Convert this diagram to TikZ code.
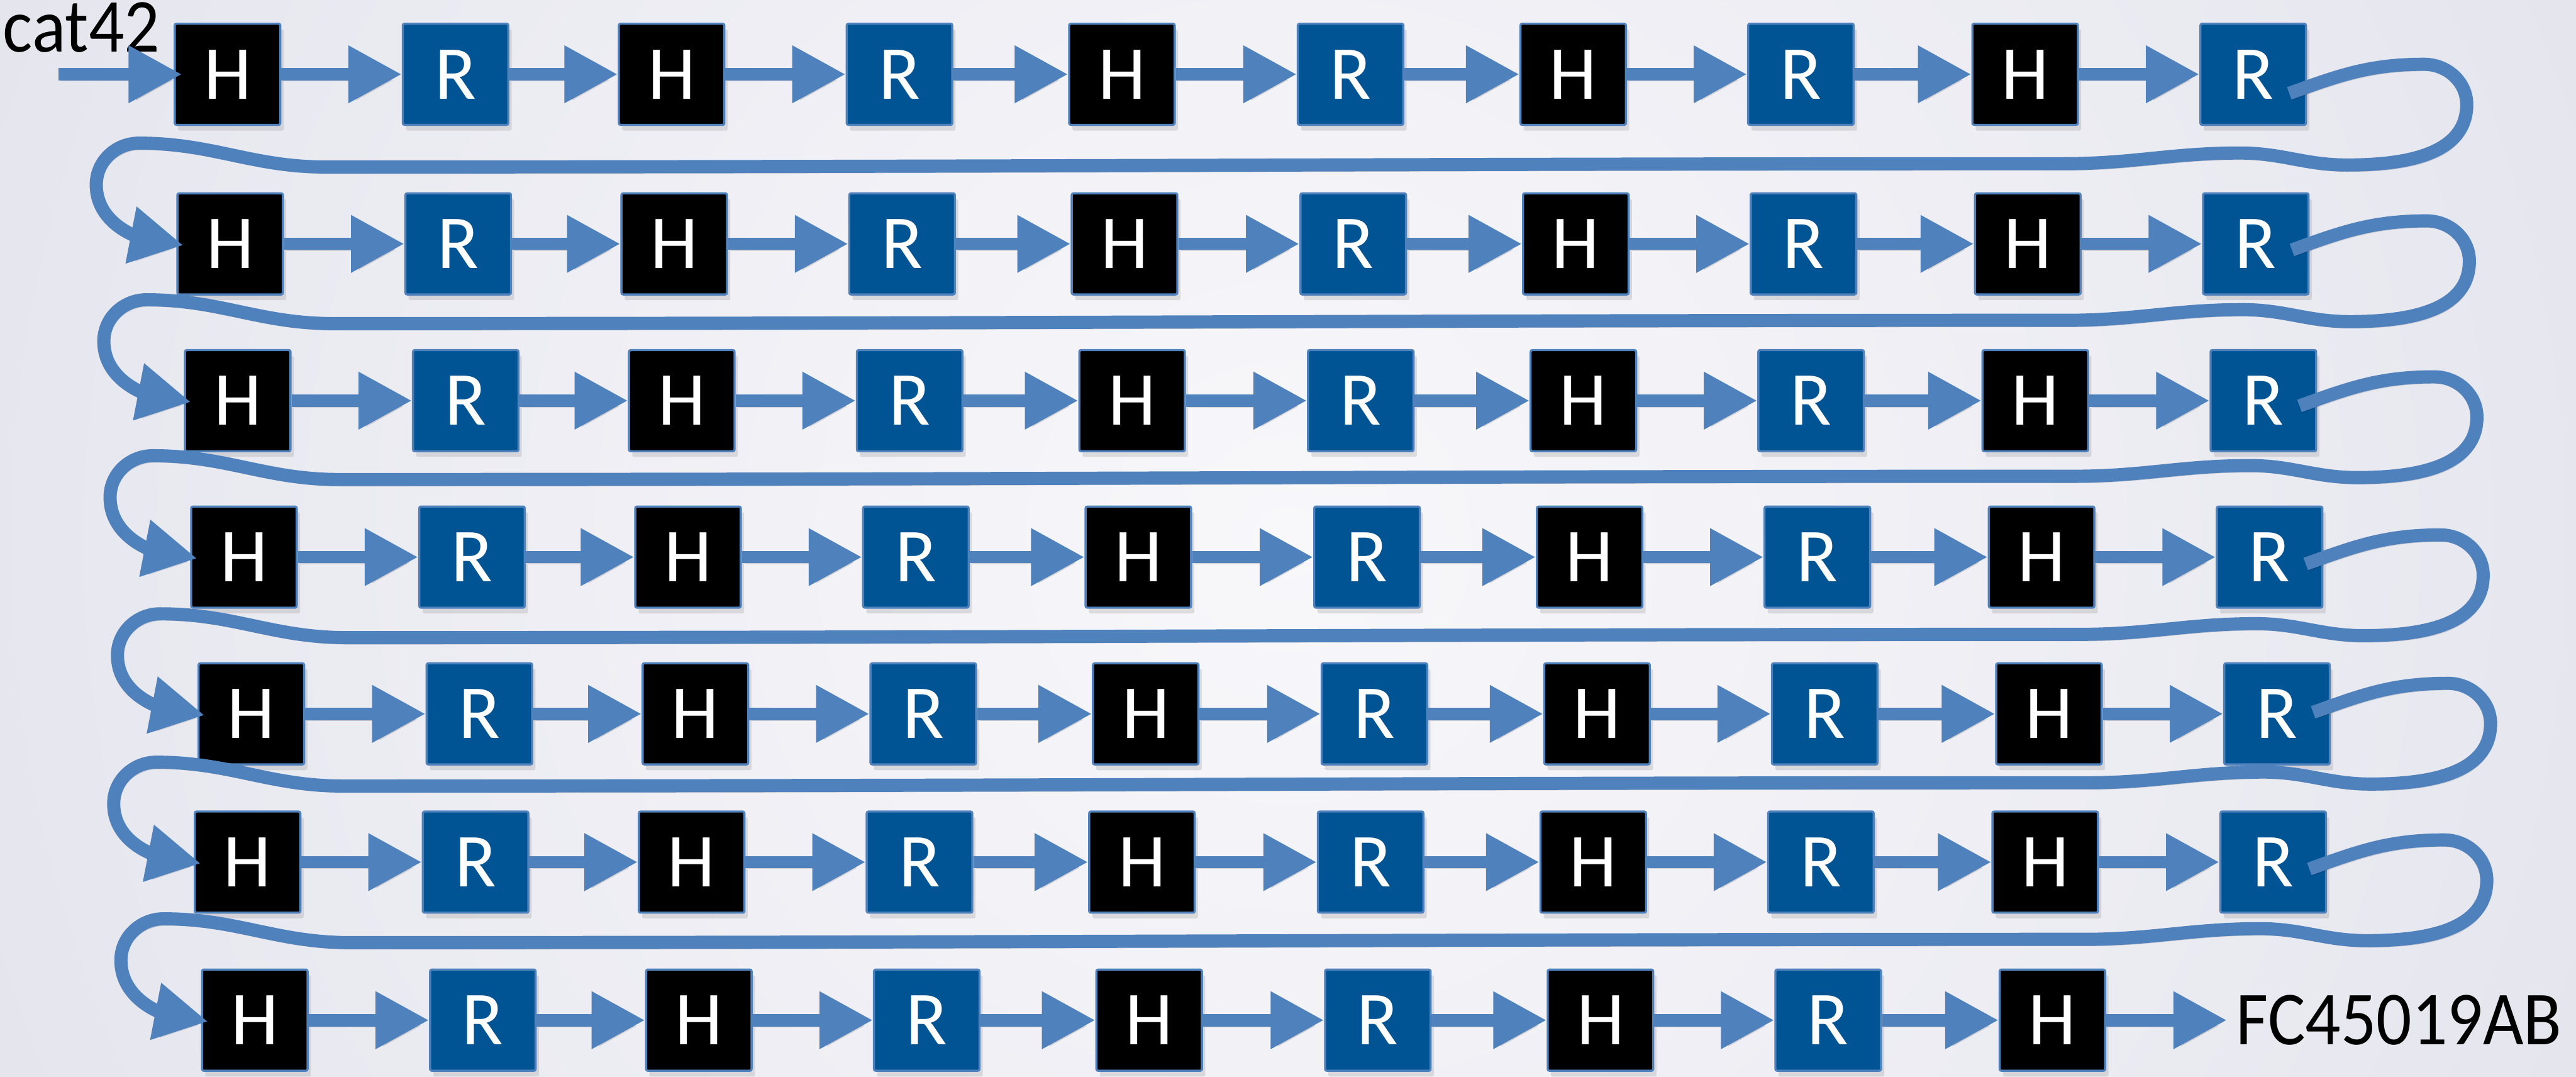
\documentclass[tikz,border=0pt]{standalone}
\usepackage{fontspec}
\setmainfont{Carlito}
\newfontfamily\narrowfont{Carlito}[FakeStretch=0.92]
\usetikzlibrary{arrows.meta,shadows}
\definecolor{arrowblue}{HTML}{4F81BD}
\definecolor{rblue}{HTML}{005493}
\definecolor{bgin}{HTML}{F8F8FB}
\definecolor{bgout}{HTML}{D4D4E2}
\begin{document}
\begin{tikzpicture}[x=0.01cm,y=0.01cm,
  softshadow/.style={preaction={draw=black, opacity=0.13, transform canvas={shift={(0.15mm,-0.35mm)}}}},
  cell/.style={draw=arrowblue, line width=0.37pt, minimum width=0.642cm, minimum height=0.615cm,
    inner sep=0pt, text=white, font=\fontsize{13.2pt}{15pt}\selectfont, rounded corners=0.3pt,
    drop shadow={shadow xshift=0.2mm, shadow yshift=-0.35mm, opacity=0.22}},
  flow/.style={draw=arrowblue, line width=0.075cm, -{Triangle[length=0.325cm,width=0.33cm]}, softshadow},
  loopline/.style={draw=arrowblue, line width=0.08cm, -{Triangle[length=0.325cm,width=0.33cm]}, shorten >=-0.044cm, softshadow},
  txt/.style={inner sep=0pt, font=\narrowfont\fontsize{13.2pt}{15pt}\selectfont, text=black}]

\useasboundingbox (0,0) rectangle (1568,-655.3);
\begin{scope}
  \clip (0,0) rectangle (1568,-655.3);
  \shade[inner color=bgin, outer color=bgout] (784,-330) circle (1600);
\end{scope}

% boxes
\foreach \r/\y/\s/\last in {1/45.2/0/10, 2/148.4/1.6/10, 3/243.8/6.2/10, 4/339.0/10.0/10, 5/434.4/14.5/10, 6/524.6/12.2/10, 7/620.8/16.6/9} {
  \foreach \c/\x/\t/\f in {1/138.5/H/black, 2/277.3/R/rblue, 3/408.8/H/black, 4/547.5/R/rblue, 5/682.9/H/black, 6/822.1/R/rblue, 7/957.6/H/black, 8/1096.2/R/rblue, 9/1232.7/H/black, 10/1371.5/R/rblue} {
    \ifnum\c>\last\relax\else
      \node[cell, fill=\f] (n\r-\c) at ({\x+\s},-\y) {\t};
    \fi
  }
}

% texts
\node[txt, anchor=base west] (cat) at (1.2,-31.4) {cat42};
\node[txt, anchor=base west] (fc) at (1360.5,-635.5) {FC45019AB};

% straight arrows
\coordinate (start) at (35.5,-45.2);
\draw[flow, shorten >=-0.05cm] (start) -- (n1-1.west);
\foreach \r/\last in {1/10, 2/10, 3/10, 4/10, 5/10, 6/10, 7/9} {
  \foreach \c in {1,...,9} {
    \ifnum\c<\last\relax
      \pgfmathtruncatemacro\d{\c+1}
      \draw[flow] (n\r-\c.east) -- (n\r-\d.west);
    \fi
  }
}
\draw[flow, shorten >=0.05cm] (n7-9.east) -- (n7-9.east -| fc.west);

% looping connectors
\foreach \k/\n/\ym/\xr/\xh/\sy in {1/2/99.1/1371.5/140.1/-11.6, 2/3/194.4/1373.1/144.7/-3.7, 3/4/289.3/1377.7/148.5/-3.2, 4/5/385.5/1381.5/153.0/-4.2, 5/6/475.8/1386.0/150.7/0.9, 6/7/571.1/1383.7/155.1/-4.2} {
  \draw[loopline] ([shift={(22,\sy)}]n\k-10.center)
    to[out=20,in=180] ({\xr+104},{60-\ym})
    to[out=0,in=90] ({\xr+130},{35.5-\ym})
    to[out=-90,in=0] ({\xr+57},{-\ym-1.3})
    to[out=180,in=0] ({\xr-8},{6-\ym})
    to[out=180,in=0] ({\xr-115},{-\ym-0.5})
    to[out=180,in=0] ({\xh+58},{-\ym-2.5})
    to[out=180,in=0] ({\xh-55.5},{12-\ym})
    to[out=180,in=90] ({\xh-81.5},{-\ym-13.3})
    to[out=-90,in=169] (n\n-1.west);
}
\end{tikzpicture}
\end{document}
